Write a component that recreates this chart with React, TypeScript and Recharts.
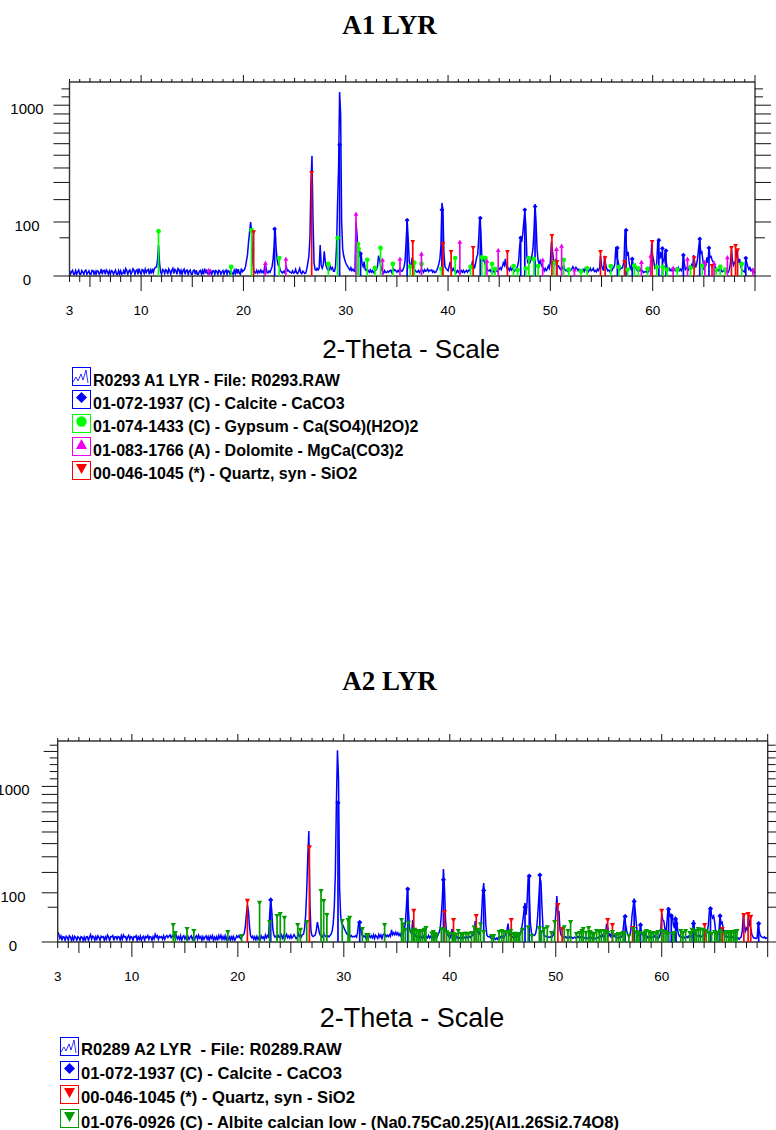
import React from "react"
import { ComposedChart, Line, Scatter, XAxis, YAxis } from "recharts"

// ----- scan grid: one intensity every 0.1 deg, one row per degree, 3.0 to 70.0 -----
const a1Counts = [
  /* 3 */ 1.2, .1, .6, 1.1, .1, .1, 1, .1, .6, 1.2,
  /* 4 */ .1, .1, 1, .5, .1, .9, 1.2, .1, .4, .9,
  /* 5 */ .1, .1, 1.1, .9, .1, .7, .1, 1, .8, .1,
  /* 6 */ .4, 1.7, .1, 1, 1.1, .1, 1.3, .7, .1, .9,
  /* 7 */ .1, 1, .8, .1, .5, 1.2, .1, .1, 1, .1,
  /* 8 */ .9, .1, .2, 1, .1, 1.9, 1, .1, .8, 1.3,
  /* 9 */ .1, .5, 1.8, 1.1, .1, 1, 1.4, .1, 1.9, .5,
  /* 10 */ .1, 1.4, 1.1, .2, 1.6, .4, 1.1, 1.5, .1, 1.2,
  /* 11 */ .2, 1.8, .4, 1.9, 2.5, 2.8, 8, 33, 6, .6,
  /* 12 */ .1, 1.5, 1.1, .2, 1.4, 1, .1, 1.7, .9, .1,
  /* 13 */ 1.1, 2, .2, 1.5, 1, .1, 1.9, 1.4, .2, 1.1,
  /* 14 */ .1, 1, 1.6, .1, 1, 1.2, .1, .8, 1.2, .1,
  /* 15 */ .1, 1, 1.2, .1, 1.2, .1, .1, .8, 1.1, .1,
  /* 16 */ 1, .1, 1.9, .5, 1, .1, 1.4, .2, .9, .1,
  /* 17 */ .9, 1, .1, 1, .7, .1, 1.1, .8, .1, .6,
  /* 18 */ 1, .1, .8, 1.2, .1, 1, .7, .1, .9, .2,
  /* 19 */ .1, 1.1, .2, 1.9, .2, 1.6, .3, .1, 2, .6,
  /* 20 */ 1, 1.3, 3, 8, 16, 40, 65, 100, 70, 9,
  /* 21 */ 1.2, .5, .3, 1.1, .3, .9, .4, 1.2, .4, .8,
  /* 22 */ .3, 5, 3, .4, .3, .9, .5, 1.4, 3, 10,
  /* 23 */ 30, 76, 25, 9, 4, 3.5, 1.2, .6, .3, .7,
  /* 24 */ .4, 1.3, 2.8, .9, 1.1, .6, .5, .3, .9, .3,
  /* 25 */ .4, 1.5, .3, .2, .8, 2, .4, .2, .8, .5,
  /* 26 */ .2, .3, 2, 6, 14, 50, 300, 495, 110, 6,
  /* 27 */ 1.5, 1.1, 2, 1.2, 2, 33, 4, 2, 4, 21,
  /* 28 */ 7, 3, 1.6, 1.1, 1.2, 3, 1.6, 2.4, .8, .8,
  /* 29 */ 3, 30, 178, 400, 1160, 900, 100, 25, 14, 9,
  /* 30 */ 6, 4, 3, 2, 1.2, 2.4, 1, 1.6, .9, .7,
  /* 31 */ 100, 60, 18, 29, 12, 17, 5, 3, 7, 1.5,
  /* 32 */ 1, 1.7, .9, .5, 1.3, .5, 1, .4, .8, 1,
  /* 33 */ 1.4, 3, 14, 9, 4, 1.5, .7, .3, 1, .4,
  /* 34 */ .4, .8, .5, 1, 1.1, .4, 2, 1, 1.4, .9,
  /* 35 */ .5, 1, .6, 2, 1, .8, 1.4, 3, 8, 40,
  /* 36 */ 107, 50, 8, 2.5, 4, 12, 5, 1.8, 1, .6,
  /* 37 */ .5, 1, .4, 1, .6, 1.1, .5, 1.4, .8, 1,
  /* 38 */ 1.7, .7, 1.1, 1, 1.3, .5, .9, .4, .5, 1.2,
  /* 39 */ 2.5, 5, 10, 30, 183, 150, 16, 3, 2, 1.4,
  /* 40 */ .9, 3, 6.7, 2, 1, 2, 1, .7, .4, 1,
  /* 41 */ .5, 1.1, .4, 1, .5, 1.1, .4, .7, 1.1, .5,
  /* 42 */ 1.1, 1, 2, 3.5, 8, 4, 2.5, 6, 12, 16,
  /* 43 */ 50, 119, 70, 12, 8, 10, 5, 3.5, 1.8, 1,
  /* 44 */ .9, 1.4, .6, .9, 1.1, .5, .8, 1.1, .7, 1.2,
  /* 45 */ 1.6, 2.4, 1.4, 3, 6, 4, 10, 3, 1.5, 2,
  /* 46 */ 1, 2.4, 1.2, 2, 1.2, .8, 1.4, 2, 3.5, 8,
  /* 47 */ 30, 52, 40, 60, 100, 140, 90, 14, 6, 5,
  /* 48 */ 6, 9, 14, 26, 70, 178, 100, 24, 8, 5,
  /* 49 */ 8, 5, 3, 2.4, .9, 2, 1, 1.6, 3.5, 2,
  /* 50 */ 7, 40, 22, 10, 5, 8, 4, 3, 3.5, 2,
  /* 51 */ 1.4, 3, 2, 4, 1.5, 1, 1.1, .7, 1.4, .9,
  /* 52 */ 1.2, 1.6, 3, 2, 1.4, 2.5, 1.8, 1, 1.6, 1,
  /* 53 */ 1.4, .8, 1.5, .7, 2, 1, 1.2, .6, 1.1, 2,
  /* 54 */ .9, 1.2, 2, .7, 1, .6, 1.6, 1, 2, 14,
  /* 55 */ 4, 2, 1, 14, 5, 2, .9, 1.2, .7, 1.4,
  /* 56 */ .9, 2, 2.5, 5, 29, 12, 8, 4, 1.4, 2,
  /* 57 */ 2, 3.5, 9, 72, 40, 14, 20, 6, 2.4, 1.5,
  /* 58 */ 10, 3, 2.4, 4, 1.6, 1, 2, 1, 1.5, .7,
  /* 59 */ .9, .4, .6, .7, .5, 1.1, .7, 1.8, 4, 35,
  /* 60 */ 14, 8, 2, 2.5, 6, 44, 16, 10, 20, 12,
  /* 61 */ 9, 7, 20, 8, 3, 1.5, 2, 1, 1.6, .8,
  /* 62 */ .9, 1.6, 1, 2, 1.4, 2.5, 1, 1.6, .9, 2,
  /* 63 */ 15, 5, 1.4, 2, 2.6, 1.4, 3, 1.6, 4, 2,
  /* 64 */ 15, 7, 2.5, 5, 12, 28, 47, 18, 20, 9,
  /* 65 */ 2, 3, 4, 12, 6, 27, 12, 13, 9, 7,
  /* 66 */ 6, 3, 2, 1.4, 1, 1.4, .9, 1.2, .6, .9,
  /* 67 */ 1, .6, .8, .4, .5, 1.6, 6, 24, 8, 4,
  /* 68 */ 6, 8, 24, 12, 6, 10, 3.5, 1.4, 1, .7,
  /* 69 */ .5, 10, 6, 3, 1.5, 2.4, 1, 1.4, .5, .9,
  /* 70 */ .3,
]

const a2Counts = [
  /* 3 */ 4, 2.6, .6, 1.5, .1, 1.2, 1, .1, 1.4, .9,
  /* 4 */ .1, 1.6, 1.1, .1, 1.2, .1, 1.4, .9, .1, 1.2,
  /* 5 */ .8, .1, 1.2, .9, .1, 1, .1, 1.1, 1.2, .1,
  /* 6 */ .9, 2.2, .3, 1.4, 1.1, .1, 1.2, .3, 1.6, .8,
  /* 7 */ .1, 1.4, .9, 1.2, .1, 1.1, .3, 2, 1, .1,
  /* 8 */ 1.2, 1.1, 1.7, .1, 1.1, 1.2, .3, 1.2, 1, .1,
  /* 9 */ 1.6, .3, 2.1, 1, 1.2, .1, 1, 1.8, .3, 1.2,
  /* 10 */ 1, .1, 1.2, 1, 1.6, .1, 1.1, .3, 1.4, .1,
  /* 11 */ 1, 1.4, .1, 1.2, .8, 1.7, .3, 1.2, 1, .1,
  /* 12 */ 1.2, .4, 2.4, 1, 1.7, .3, 1.2, .8, 1.2, .3,
  /* 13 */ 1.6, .3, 1.2, 1.7, .8, 1.4, 2.1, .8, 1.6, 1,
  /* 14 */ 2.4, .6, 1.7, .4, 1.2, .3, 1.6, .1, 1, 1.7,
  /* 15 */ .4, 1.2, .1, 1.2, .3, 1, 1.6, .3, 1.1, .1,
  /* 16 */ 1, 1.7, .3, 1.9, .6, 1.2, .1, 1.2, .3, 1,
  /* 17 */ 1.6, .3, 1.2, .1, 1.4, .6, 1.7, .1, 1, .3,
  /* 18 */ 1.2, .1, 1.7, .6, 1.9, .3, 1.2, .3, 1.6, .1,
  /* 19 */ 1.2, .3, 1, .1, 1.7, .3, 1.2, .1, .6, 1.6,
  /* 20 */ .9, 1.7, .7, .4, 1.6, 1.8, 3, 9, 30, 56,
  /* 21 */ 40, 10, 1.6, .8, 1.4, .3, 1.1, .2, 1.3, .3,
  /* 22 */ 1, .2, 1.6, .6, 1.1, .3, 2, .7, 1.7, 1,
  /* 23 */ 30, 73, 40, 7, 2, 1, 1.5, .5, 1.8, .9,
  /* 24 */ 1.3, 2.2, .6, 1.7, .3, 1.2, 2.4, .8, 1.6, .6,
  /* 25 */ 2, .6, 1.2, 2.3, 1.2, .5, 1, 3, 1.3, 2.2,
  /* 26 */ 1.1, 2.3, 2.6, 8, 30, 110, 300, 508, 60, 5,
  /* 27 */ 1.7, 1.2, 1.6, 2, 5, 16.5, 9, 3, 1.7, 1.2,
  /* 28 */ 1, 3, 1.7, 1.2, 1.1, 1.6, 1.1, 1.8, 2.5, 5,
  /* 29 */ 14, 50, 190, 800, 1520, 1100, 120, 30, 14, 12,
  /* 30 */ 9, 6, 4, 2.5, 2.4, 1.6, 1.2, 1.8, 1, 1.3,
  /* 31 */ 1.1, 1.6, 1, 4, 16, 10, 6, 2, 1.8, 1.1,
  /* 32 */ 1.6, .5, 1.7, .7, 2, .8, 1.6, .7, 2.2, .5,
  /* 33 */ 1.9, 1.2, .5, 2.4, 1, 2, .5, 2.2, 2.6, 2.4,
  /* 34 */ 1.2, 1.9, 1.2, 2.2, 1.3, 6, 2.2, 3.5, 2.2, 4,
  /* 35 */ 2.2, 3.5, 1.7, 2.8, 1.3, 3, 3.4, 6, 14, 50,
  /* 36 */ 116, 40, 8, 4, 3, 20, 6, 2.4, 1.4, 1,
  /* 37 */ 1, .7, 1.6, .7, 1.4, .8, 2, .8, 1.2, .7,
  /* 38 */ 1.8, .7, 1.3, .6, 1.2, .5, 1.1, 1.6, 1, 2.2,
  /* 39 */ 4, 8, 30, 80, 220, 120, 20, 3, 2.2, 1.2,
  /* 40 */ 1.8, .8, 7, 2.2, 1.2, 1, 1.6, .6, 1.2, .6,
  /* 41 */ 1, .5, 1.1, .6, .9, .6, 1.2, .6, .9, 1.3,
  /* 42 */ .8, 1.7, 2, 5, 18, 6, 4, 5, 3, 5,
  /* 43 */ 30, 100, 144, 70, 12, 2, 1.2, 1.1, 1.4, .6,
  /* 44 */ .6, .3, .7, .3, .6, .3, 1, .5, 1.1, .6,
  /* 45 */ 1.3, .7, 1.6, 3, 6, 14, 3, 1.6, 1.4, .9,
  /* 46 */ 1.2, .8, 1.6, 1, 1.4, 1.3, 2, 4, 9, 20,
  /* 47 */ 40, 63, 30, 70, 174, 100, 16, 4, 2, 2,
  /* 48 */ 1.8, 3, 8, 30, 80, 169, 150, 50, 8, 1.8,
  /* 49 */ 1.6, 1.1, 1.4, 1, .9, 1.2, .8, 1.4, 2.5, 8,
  /* 50 */ 30, 87, 30, 40, 6, 2, 1.4, 1, .8, 1.1,
  /* 51 */ .7, 1.2, .6, 1.1, .6, 1, .5, .8, 1, .6,
  /* 52 */ .8, 1.3, .8, 1.1, .7, .9, 1.2, .6, .5, .8,
  /* 53 */ .5, .7, 1, .5, .8, .5, .7, .4, .6, .8,
  /* 54 */ .7, 1.1, 1.5, .8, 2, 1.1, 1.2, 3, 14, 9,
  /* 55 */ 1.6, 2.5, .8, 5, 2, 1.2, 2, .7, .6, .9,
  /* 56 */ .8, 1.2, 1, 2, 12, 30, 12, 5, 2, 1.2,
  /* 57 */ 2, 7, 30, 50, 78, 40, 15, 2.5, 1.8, 3,
  /* 58 */ 12, 3, 2, 1.6, 1.1, 2.5, 1.4, .7, 1.2, .7,
  /* 59 */ 1.4, 1, .8, 1.6, .9, .7, 1, .6, 1.2, 4,
  /* 60 */ 33, 20, 18, 7, 2.5, 18, 50, 40, 28, 24,
  /* 61 */ 28, 12, 8, 23, 20, 6, 2.2, 1.2, .8, 1.2,
  /* 62 */ .7, 1, .6, 1.2, .8, 1.4, .7, 1.2, 1.6, .9,
  /* 63 */ 20, 6, 2, 1.4, 1.7, 1.1, 1.8, 1, 1.4, 2,
  /* 64 */ 2.5, 1.6, 2.2, 5, 12, 40, 50, 30, 24, 28,
  /* 65 */ 16, 3, 1.6, 2.2, 5, 30, 14, 16, 8, 2.2,
  /* 66 */ 1.2, 1.6, 1, 1.2, .8, 1, .7, 1.2, .8, .5,
  /* 67 */ .7, .5, .7, .3, .7, 1.1, 5, 30, 12, 5,
  /* 68 */ 8, 6, 26, 12, 8, 2.5, 1.2, .6, .7, .5,
  /* 69 */ .7, 12, 5, 1.8, 1.2, .9, .7, 1.1, .5, .7,
  /* 70 */ .4,
]

// ----- reference patterns: [2-theta, height] -----
type Stick = [number, number]

const a1Calcite: Stick[] = [[23.05, 76], [29.4, 590], [31.45, 17], [36, 107], [39.4, 150], [43.15, 115], [47.1, 50], [47.5, 150], [48.5, 165], [56.55, 27], [57.4, 72], [58, 10], [60.6, 44], [60.95, 26], [61.3, 22], [63, 15], [64.6, 47], [65.5, 27], [69.1, 11]]
const a1Gypsum: Stick[] = [[11.7, 69], [18.8, 2.8], [20.8, 72], [23.5, 11], [28.3, 5], [29.2, 50], [31.2, 35], [31.25, 25], [32.1, 9], [32.85, 2.2], [33.4, 27], [34.6, 5], [36.3, 3], [36.7, 6], [37.4, 5], [39.35, 1.7], [40.7, 11], [42.2, 2.8], [43.3, 12], [43.65, 11], [44.3, 5], [44.6, 1.7], [46.4, 3.4], [46.8, 1.2], [47.6, 2], [47.9, 11], [48.4, 10], [48.8, 3.4], [50.35, 6], [51.3, 9], [51.8, 1.4], [53, .8], [53.6, 2], [55.9, 3.4], [56.7, 2.8], [57.55, 1.4], [58.2, 3.6], [58.6, 2], [59.5, 1.7], [60.4, 2.8], [61, 2.8], [61.4, 1.4], [62.4, 1.4], [63.7, 2.4], [64.85, 3.6], [66.2, 1.2], [66.6, 2.8], [67.1, 1.4], [68.7, 5]]
const a1Dolomite: Stick[] = [[16.6, 1.2], [22.15, 5.8], [24.15, 10], [31, 132], [33.6, 9], [35.3, 10], [37.4, 17], [41.15, 40], [43.8, 7.7], [44.9, 23], [49.25, 9], [50.6, 25], [51.1, 31], [52.35, 1.4], [58.9, 6.7], [59.8, 14], [62, 2.2], [63.4, 10], [65.1, 6.7], [66, 5.8], [67.3, 12], [69.8, 1.4]]
const a1Quartz: Stick[] = [[21, 66], [26.67, 364], [36.55, 40], [39.5, 35], [40.3, 20], [42.45, 27], [45.8, 20], [50.15, 55], [50.65, 6.7], [54.9, 20], [55.35, 11], [57.25, 6.7], [59.95, 40], [64.05, 11], [65.8, 3.4], [67.7, 27], [68.1, 31], [68.3, 23]]

const a2Calcite: Stick[] = [[23.1, 73], [29.45, 800], [31.5, 16], [36.03, 116], [39.4, 160], [43.2, 110], [47.1, 50], [47.5, 180], [48.5, 185], [56.55, 27], [57.4, 68], [58, 12], [60.65, 44], [60.9, 28], [61.3, 22], [61.35, 14], [63, 14], [64.6, 46], [65.5, 28], [69.15, 14]]
const a2Quartz: Stick[] = [[20.9, 70], [26.75, 370], [36.6, 40], [39.5, 37], [40.35, 20], [42.5, 28], [45.8, 20], [50.2, 56], [50.6, 7], [54.9, 20], [55.35, 12], [57.25, 8], [60, 40], [64.05, 12], [65.7, 7], [67.75, 30], [68.15, 32], [68.4, 26]]
const a2Albite: Stick[] = [[13.9, 12], [14.1, 3.3], [15.2, 7], [15.85, 5], [19.05, 4.1], [20.35, 1.5], [22.05, 63], [23, 16.5], [23.7, 28], [24, 32], [24.4, 24], [25.65, 12], [25.9, 6], [26.5, 16.5], [27.85, 107], [28.1, 69], [28.4, 30], [29.85, 18], [30.4, 20], [30.55, 24], [31.75, 7], [32.15, 2], [32.3, 2], [33.85, 12], [35.45, 20], [35.6, 13], [35.8, 6], [36.1, 15], [36.4, 5], [36.55, 4], [36.7, 6], [36.9, 5], [37.05, 5], [37.2, 5], [37.4, 5], [37.6, 6], [37.75, 8], [38.3, 3], [38.45, 4], [38.6, 2.6], [38.75, 2], [39.2, 7], [39.45, 6], [39.7, 4], [39.95, 3], [40.25, 2.6], [40.4, 2.4], [40.55, 2], [40.8, 5], [41.05, 2.6], [41.25, 2.6], [41.5, 3], [41.75, 2.6], [42.05, 3.3], [42.3, 9], [42.5, 5], [42.7, 6], [42.9, 13], [43.2, 4], [43.95, 1.5], [44.15, 1.5], [44.65, 4], [44.9, 5], [45.1, 4], [45.35, 4], [45.55, 4], [45.75, 5], [46, 2.6], [46.15, 2.8], [46.3, 2.6], [46.45, 2.6], [46.6, 2.6], [46.85, 6], [47.4, 9], [47.75, 1.5], [48.45, 8], [48.65, 4], [48.9, 7], [49.2, 9], [49.6, 3.3], [49.9, 16.5], [50.8, 9], [51.15, 5], [51.4, 16.5], [51.95, 2.6], [52.25, 3.3], [52.45, 5], [52.6, 7], [52.85, 3.5], [53.1, 8], [53.25, 4], [53.45, 3], [53.6, 2.6], [53.85, 5], [54.1, 4], [54.3, 5], [54.55, 5], [54.7, 4], [54.9, 3.3], [55.35, 4], [55.7, 2], [55.9, 2.6], [56.1, 2.6], [56.35, 3.3], [56.5, 3.3], [56.9, 1.5], [57.35, 7], [57.6, 4], [57.75, 3.5], [57.9, 3.3], [58.25, 2.6], [58.4, 3.6], [58.55, 5], [58.8, 4], [59, 3], [59.2, 3.3], [59.45, 3], [59.65, 4], [60, 5], [60.2, 4], [60.4, 4], [60.6, 2.6], [61.05, 2.6], [61.2, 3.3], [61.8, 5], [62, 3.3], [62.25, 5], [62.65, 3.3], [62.85, 6], [63.1, 4], [63.25, 5], [63.45, 7], [63.65, 6], [63.9, 6], [64.2, 5], [64.45, 3.5], [64.7, 2.6], [65, 4], [65.15, 3.5], [65.3, 3.3], [65.55, 5], [65.9, 3], [66.1, 4], [66.3, 3.3], [66.45, 4], [66.6, 4], [66.8, 4], [66.95, 4.5], [67.1, 5]]

// ----- axis ticks -----
const thetaTicks = Array.from({ length: 68 }, (_, i) => i + 3)
const thetaLabels = [3, 10, 20, 30, 40, 50, 60]
const a1Ticks = [0, 50, 100, 200, 300, 400, 500, 600, 700, 800, 900, 1000, 1100, 1200]
const a2Ticks = [0, 50, 100, 200, 300, 400, 500, 600, 700, 800, 900, 1000, 1100, 1200, 1300, 1400, 1500, 1600]
const countLabels = [0, 100, 1000]

const BLUE = "#0000ff"
const GREEN = "#00ff00"
const MAGENTA = "#ee00ee"
const RED = "#ff0000"
const DARK_GREEN = "#009c00"

const SANS = "'Liberation Sans', Arial, sans-serif"
const SERIF = "'Liberation Serif', 'Times New Roman', serif"

type Mark = "diamond" | "circle" | "up" | "down"

function markPath(mark: Mark, s: number) {
  if (mark === "diamond") return `M0 ${-s}L${s} 0L0 ${s}L${-s} 0Z`
  if (mark === "up") return `M0 ${-s}L${s} ${s * 0.8}L${-s} ${s * 0.8}Z`
  return `M0 ${s}L${s} ${-s * 0.8}L${-s} ${-s * 0.8}Z`
}

// scatter shape: a stem down to the base line with the phase symbol on top
function stickShape(color: string, mark: Mark, baseY: number, size: number) {
  return (props: any) => {
    const { cx, cy } = props
    return (
      <g>
        <line x1={cx} x2={cx} y1={cy} y2={baseY} stroke={color} strokeWidth={1.7} />
        <g transform={`translate(${cx},${cy})`}>
          {mark === "circle" ? <circle r={size} fill={color} /> : <path d={markPath(mark, size)} fill={color} />}
        </g>
      </g>
    )
  }
}

function bottomTick({ x, y, payload }: any) {
  const v = payload.value
  const len = v % 10 === 0 ? 15 : v % 5 === 0 ? 11 : 6
  return (
    <g>
      <line x1={x} x2={x} y1={y} y2={y + len} stroke="#111" />
      {thetaLabels.includes(v) && (
        <text x={x} y={y + 39} textAnchor="middle" fontFamily={SANS} fontSize={13.5} fill="#000">
          {v}
        </text>
      )}
    </g>
  )
}

function topTick({ x, y, payload }: any) {
  const v = payload.value
  const len = v % 10 === 0 ? 7 : v % 5 === 0 ? 4 : 3
  return <line x1={x} x2={x} y1={y} y2={y - len} stroke="#111" />
}

function countTickLen(v: number) {
  if (v === 50) return 10
  if (v === 1500) return 14
  return v > 1000 ? 8 : 16
}

function leftTick(labelX: number) {
  return ({ x, y, payload }: any) => {
    const v = payload.value
    return (
      <g>
        <line x1={x} x2={x - countTickLen(v)} y1={y} y2={y} stroke="#111" />
        {countLabels.includes(v) && (
          <text x={labelX} y={y + 9} textAnchor="middle" fontFamily={SANS} fontSize={15} fill="#000">
            {v}
          </text>
        )}
      </g>
    )
  }
}

function rightTick({ x, y, payload }: any) {
  return <line x1={x} x2={x + countTickLen(payload.value)} y1={y} y2={y} stroke="#111" />
}

function toPoints(sticks: Stick[]) {
  return sticks.map(([theta, count]) => ({ theta, count }))
}

function Panel({ left, right, plotTop, plotBottom, maxCount, ticks, labelX, counts, phases, size }: any) {
  const trace = counts.map((count: number, i: number) => ({ theta: (30 + i) / 10, count }))
  const chartTop = plotTop - 22
  const height = plotBottom - chartTop + 44
  return (
    <div style={{ position: "absolute", left: 0, top: chartTop, width: 776, height }}>
      <ComposedChart
        width={776}
        height={height}
        data={trace}
        margin={{ top: 2, bottom: 4, left: left - 40, right: 776 - right - 20 }}
        style={{ overflow: "visible" }}
      >
        <XAxis dataKey="theta" type="number" domain={[3, 70]} ticks={thetaTicks} interval={0} height={40} tickSize={0} tickMargin={0} tick={bottomTick} axisLine={{ stroke: "#333", strokeWidth: 1.4 }} tickLine={false} allowDataOverflow />
        <XAxis xAxisId="top" dataKey="theta" orientation="top" type="number" domain={[3, 70]} ticks={thetaTicks} interval={0} height={20} tickSize={0} tickMargin={0} tick={topTick} axisLine={{ stroke: "#333", strokeWidth: 1.4 }} tickLine={false} allowDataOverflow />
        <YAxis dataKey="count" type="number" scale="sqrt" domain={[0, maxCount]} ticks={ticks} interval={0} width={40} tickSize={0} tickMargin={0} tick={leftTick(labelX)} axisLine={{ stroke: "#333", strokeWidth: 1.4 }} tickLine={false} allowDataOverflow />
        <YAxis yAxisId="right" orientation="right" type="number" scale="sqrt" domain={[0, maxCount]} ticks={ticks} interval={0} width={20} tickSize={0} tickMargin={0} tick={rightTick} axisLine={{ stroke: "#333", strokeWidth: 1.4 }} tickLine={false} allowDataOverflow />
        <Line dataKey="count" stroke={BLUE} strokeWidth={1.5} dot={false} isAnimationActive={false} />
        {phases.map((p: any) => (
          <Scatter key={p.name} name={p.name} data={toPoints(p.sticks)} isAnimationActive={false} shape={stickShape(p.color, p.mark, plotBottom - chartTop, size)} />
        ))}
      </ComposedChart>
    </div>
  )
}

function LegendRow({ top, left, boxSize, color, mark, text, fontSize }: any) {
  return (
    <div style={{ position: "absolute", left, top, display: "flex", alignItems: "center", height: boxSize }}>
      <svg width={boxSize} height={boxSize} style={{ display: "block" }}>
        <rect x={0.5} y={0.5} width={boxSize - 1} height={boxSize - 1} fill="none" stroke={color} strokeWidth={1} />
        {mark === "trace" ? (
          <polyline points={`1,${boxSize - 4} 4,${boxSize - 9} 6,${boxSize - 5} 9,${boxSize - 12} 11,${boxSize - 6} 14,3 16,${boxSize - 3}`} fill="none" stroke={color} strokeWidth={0.8} />
        ) : (
          <g transform={`translate(${boxSize / 2},${boxSize / 2 - 2})`}>
            {mark === "circle" ? <circle r={5.2} fill={color} /> : <path d={markPath(mark, 5.5)} fill={color} />}
          </g>
        )}
      </svg>
      <span style={{ marginLeft: 2, position: "relative", top: 4, lineHeight: 1, fontFamily: SANS, fontWeight: 700, fontSize, whiteSpace: "pre", color: "#000" }}>{text}</span>
    </div>
  )
}

function TextAt({ x, y, font, size, bold, children }: any) {
  return (
    <div style={{ position: "absolute", left: x - 200, top: y - 20, width: 400, height: 40, lineHeight: "40px", textAlign: "center", fontFamily: font, fontSize: size, fontWeight: bold ? 700 : 400, color: "#000", whiteSpace: "pre" }}>
      {children}
    </div>
  )
}

const a1Phases = [
  { name: "Calcite", sticks: a1Calcite, color: BLUE, mark: "diamond" },
  { name: "Gypsum", sticks: a1Gypsum, color: GREEN, mark: "circle" },
  { name: "Dolomite", sticks: a1Dolomite, color: MAGENTA, mark: "up" },
  { name: "Quartz", sticks: a1Quartz, color: RED, mark: "down" },
]
const a2Phases = [
  { name: "Calcite", sticks: a2Calcite, color: BLUE, mark: "diamond" },
  { name: "Quartz", sticks: a2Quartz, color: RED, mark: "down" },
  { name: "Albite", sticks: a2Albite, color: DARK_GREEN, mark: "down" },
]

const a1Legend = [
  { text: "R0293 A1 LYR - File: R0293.RAW", color: BLUE, mark: "trace" },
  { text: "01-072-1937 (C) - Calcite - CaCO3", color: BLUE, mark: "diamond" },
  { text: "01-074-1433 (C) - Gypsum - Ca(SO4)(H2O)2", color: GREEN, mark: "circle" },
  { text: "01-083-1766 (A) - Dolomite - MgCa(CO3)2", color: MAGENTA, mark: "up" },
  { text: "00-046-1045 (*) - Quartz, syn - SiO2", color: RED, mark: "down" },
]
const a2Legend = [
  { text: "R0289 A2 LYR  - File: R0289.RAW", color: BLUE, mark: "trace" },
  { text: "01-072-1937 (C) - Calcite - CaCO3", color: BLUE, mark: "diamond" },
  { text: "00-046-1045 (*) - Quartz, syn - SiO2", color: RED, mark: "down" },
  { text: "01-076-0926 (C) - Albite calcian low - (Na0.75Ca0.25)(Al1.26Si2.74O8)", color: DARK_GREEN, mark: "down" },
]

export default function App() {
  return (
    <div style={{ position: "absolute", left: 0, top: 0, width: 776, height: 1130, overflow: "hidden", background: "#fff" }}>
      <TextAt x={389.5} y={25} font={SERIF} size={27} bold>A1 LYR</TextAt>
      <Panel left={69.5} right={755} plotTop={81.7} plotBottom={275.7} maxCount={1290} ticks={a1Ticks} labelX={27} counts={a1Counts} phases={a1Phases} size={2.4} />
      <TextAt x={411} y={349} font={SANS} size={26}>2-Theta - Scale</TextAt>
      {a1Legend.map((row, i) => (
        <LegendRow key={row.text} top={367 + i * 23.4} left={72} boxSize={19} color={row.color} mark={row.mark} text={row.text} fontSize={16} />
      ))}

      <TextAt x={389.5} y={681} font={SERIF} size={27} bold>A2 LYR</TextAt>
      <Panel left={57.7} right={767.7} plotTop={740.7} plotBottom={941.7} maxCount={1669} ticks={a2Ticks} labelX={13} counts={a2Counts} phases={a2Phases} size={2.6} />
      <TextAt x={412} y={1018} font={SANS} size={27}>2-Theta - Scale</TextAt>
      {a2Legend.map((row, i) => (
        <LegendRow key={row.text} top={1037 + i * 24.1} left={60} boxSize={19} color={row.color} mark={row.mark} text={row.text} fontSize={16.6} />
      ))}
    </div>
  )
}
